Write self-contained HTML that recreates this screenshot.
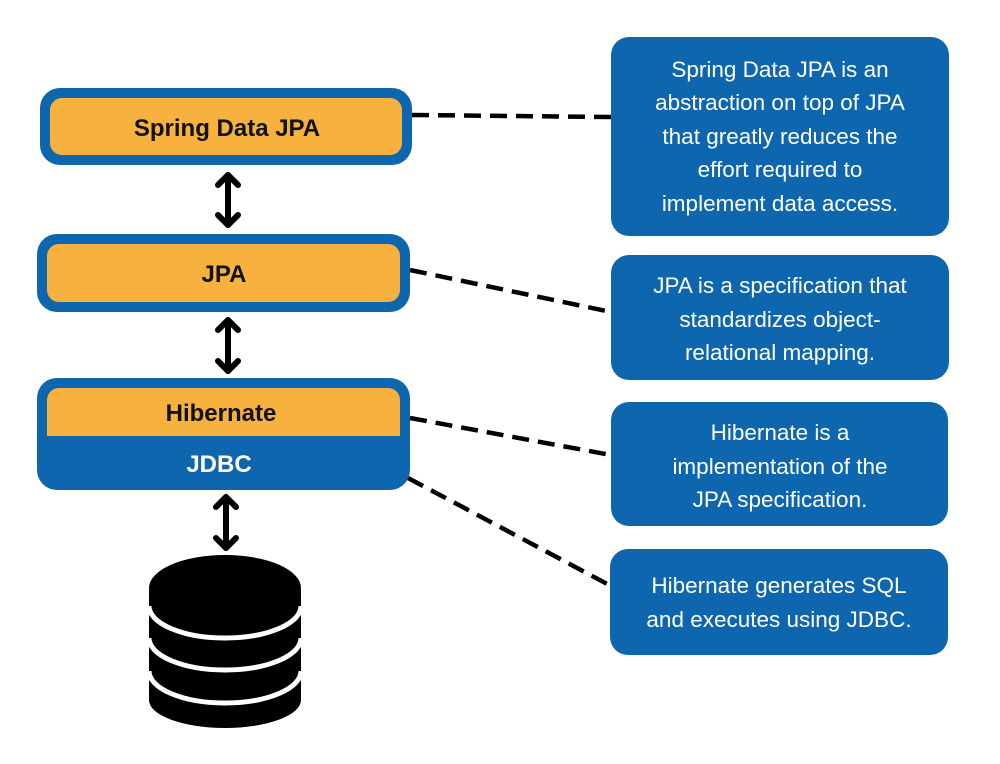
<!DOCTYPE html>
<html><head><meta charset="utf-8"><style>
html,body{margin:0;padding:0;background:#fff;}
svg{display:block;}
text{font-family:"Liberation Sans",sans-serif;}
</style></head><body>
<svg width="1000" height="764" viewBox="0 0 1000 764" xmlns="http://www.w3.org/2000/svg">
<rect width="1000" height="764" fill="#fff"/>
<g stroke="#000" stroke-width="4.5" stroke-dasharray="17,9" fill="none">
<line x1="412" y1="115" x2="611" y2="117"/>
<line x1="410" y1="270" x2="611" y2="312"/>
<line x1="410" y1="418" x2="611" y2="455"/>
<line x1="408" y1="478" x2="611" y2="586"/>
</g>
<rect x="40" y="88" width="372" height="77" rx="20" fill="#0d66ae"/>
<rect x="50" y="98" width="352" height="57" rx="12" fill="#f7b13f"/>
<text x="227" y="136" text-anchor="middle" font-size="24" font-weight="bold" fill="#111">Spring Data JPA</text>
<rect x="37" y="234" width="373" height="78" rx="20" fill="#0d66ae"/>
<rect x="47" y="244" width="353" height="58" rx="12" fill="#f7b13f"/>
<text x="224" y="282" text-anchor="middle" font-size="24" font-weight="bold" fill="#111">JPA</text>
<rect x="37" y="378" width="373" height="112" rx="20" fill="#0d66ae"/>
<path d="M47 436 V400 a12 12 0 0 1 12 -12 H388 a12 12 0 0 1 12 12 V436 Z" fill="#f7b13f"/>
<text x="221" y="421" text-anchor="middle" font-size="24" font-weight="bold" fill="#111">Hibernate</text>
<text x="219" y="472" text-anchor="middle" font-size="24" font-weight="bold" fill="#fff">JDBC</text>
<g stroke="#000" stroke-width="6" fill="none" stroke-linecap="round" stroke-linejoin="round">
<line x1="228" y1="175" x2="228" y2="225"/><polyline points="218,185 228,175 238,185"/><polyline points="218,215 228,225 238,215"/>
<line x1="228" y1="320" x2="228" y2="371"/><polyline points="218,330 228,320 238,330"/><polyline points="218,361 228,371 238,361"/>
<line x1="226" y1="497" x2="226" y2="548"/><polyline points="216,507 226,497 236,507"/><polyline points="216,538 226,548 236,538"/>
</g>
<path d="M149 590 V700 A76 28 0 0 0 301 700 V590 Z" fill="#000"/>
<ellipse cx="225" cy="588" rx="76" ry="33" fill="#000"/>
<g fill="none" stroke="#fff" stroke-width="5">
<path d="M149 606 A76 32 0 0 0 301 606"/>
<path d="M149 638 A76 32 0 0 0 301 638"/>
<path d="M149 671 A76 32 0 0 0 301 671"/>
</g>
<g fill="#0d66ae">
<rect x="611" y="37" width="338" height="199" rx="18"/>
<rect x="611" y="255" width="338" height="125" rx="18"/>
<rect x="611" y="402" width="337" height="124" rx="18"/>
<rect x="610" y="549" width="338" height="106" rx="18"/>
</g>
<g fill="#fff" font-size="22.5" text-anchor="middle">
<text x="780" y="77">Spring Data JPA is an</text>
<text x="780" y="110">abstraction on top of JPA</text>
<text x="780" y="144">that greatly reduces the</text>
<text x="780" y="177">effort required to</text>
<text x="780" y="211">implement data access.</text>
<text x="780" y="293">JPA is a specification that</text>
<text x="780" y="327">standardizes object-</text>
<text x="780" y="360">relational mapping.</text>
<text x="780" y="440">Hibernate is a</text>
<text x="780" y="474">implementation of the</text>
<text x="780" y="507">JPA specification.</text>
<text x="779" y="593">Hibernate generates SQL</text>
<text x="779" y="627">and executes using JDBC.</text>
</g>
</svg>
</body></html>
